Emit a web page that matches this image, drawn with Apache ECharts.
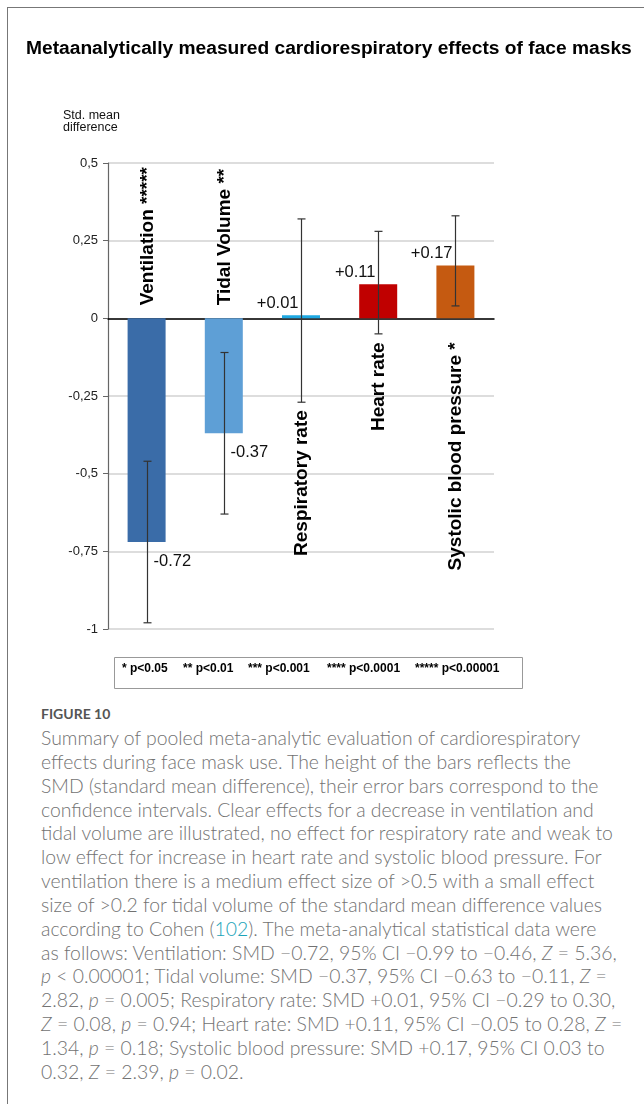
<!DOCTYPE html>
<html>
<head>
<meta charset="utf-8">
<script src="https://cdn.jsdelivr.net/npm/echarts@6/dist/echarts.min.js"></script>
<style>
  html, body { margin: 0; padding: 0; background: #fff; }
  #page { position: relative; width: 644px; height: 1104px; overflow: hidden; }
  #frame { position: absolute; left: 7px; top: 7px; width: 660px; height: 1120px;
           border-left: 1.5px solid #777; border-top: 1.5px solid #777; }
  #chart { position: absolute; left: 0; top: 0; width: 644px; height: 700px; }
  #figlabel { position: absolute; left: 41px; top: 705px; font-family: Lato, "Open Sans", sans-serif;
              font-weight: 700; font-size: 14px; color: #555; }
  #caption { position: absolute; left: 41px; top: 726px; font-family: Lato, "Open Sans", sans-serif;
             font-weight: 300; font-size: 19.4px; line-height: 23.85px; color: #727272; white-space: nowrap; }
  #caption i { font-style: italic; }
  #caption .ref { color: #1aa3b8; }
</style>
</head>
<body>
<div id="page">
  <div id="frame"></div>
  <div id="chart"></div>
  <div id="figlabel">FIGURE 10</div>
  <div id="caption">
    Summary of pooled meta-analytic evaluation of cardiorespiratory<br>
    effects during face mask use. The height of the bars reflects the<br>
    SMD (standard mean difference), their error bars correspond to the<br>
    confidence intervals. Clear effects for a decrease in ventilation and<br>
    tidal volume are illustrated, no effect for respiratory rate and weak to<br>
    low effect for increase in heart rate and systolic blood pressure. For<br>
    ventilation there is a medium effect size of &gt;0.5 with a small effect<br>
    size of &gt;0.2 for tidal volume of the standard mean difference values<br>
    according to Cohen (<span class="ref">102</span>). The meta-analytical statistical data were<br>
    as follows: Ventilation: SMD &minus;0.72, 95% CI &minus;0.99 to &minus;0.46, <i>Z</i> = 5.36,<br>
    <i>p</i> &lt; 0.00001; Tidal volume: SMD &minus;0.37, 95% CI &minus;0.63 to &minus;0.11, <i>Z</i> =<br>
    2.82, <i>p</i> = 0.005; Respiratory rate: SMD +0.01, 95% CI &minus;0.29 to 0.30,<br>
    <i>Z</i> = 0.08, <i>p</i> = 0.94; Heart rate: SMD +0.11, 95% CI &minus;0.05 to 0.28, <i>Z</i> =<br>
    1.34, <i>p</i> = 0.18; Systolic blood pressure: SMD +0.17, 95% CI 0.03 to<br>
    0.32, <i>Z</i> = 2.39, <i>p</i> = 0.02.
  </div>
</div>
<script>
// data
var categories = ['Ventilation', 'Tidal Volume', 'Respiratory rate', 'Heart rate', 'Systolic blood pressure'];
var stars = ['*****', '**', '', '', '*'];
var smd = [-0.72, -0.37, 0.01, 0.11, 0.17];
var ciLow = [-0.98, -0.63, -0.27, -0.05, 0.04];
var ciHigh = [-0.46, -0.11, 0.32, 0.28, 0.33];
var yTicks = [-1, -0.75, -0.5, -0.25, 0, 0.25, 0.5];
var pLevels = ['* p<0.05', '** p<0.01', '*** p<0.001', '**** p<0.0001', '***** p<0.00001'];

var barColors = ['#3a6ca8', '#5e9fd6', '#1ea8e2', '#c00000', '#c55a11'];
var FONT = '"Liberation Sans", Arial, sans-serif';

var chart = echarts.init(document.getElementById('chart'));

var barData = smd.map(function (v, i) {
  return { value: v, itemStyle: { color: barColors[i] } };
});
var errData = smd.map(function (v, i) {
  return [i, ciLow[i], ciHigh[i], v];
});

function renderErr(params, api) {
  var i = api.value(0);
  var v = api.value(3);
  var lo = api.coord([i, api.value(1)]);
  var hi = api.coord([i, api.value(2)]);
  var mid = api.coord([i, v]);
  var zero = api.coord([i, 0]);
  var x = Math.round(lo[0]) + 0.5;
  var st = { stroke: '#333', lineWidth: 1.2 };
  var cap = 4;
  var kids = [
    { type: 'line', shape: { x1: x, y1: lo[1], x2: x, y2: hi[1] }, style: st },
    { type: 'line', shape: { x1: x - cap, y1: lo[1], x2: x + cap, y2: lo[1] }, style: st },
    { type: 'line', shape: { x1: x - cap, y1: hi[1], x2: x + cap, y2: hi[1] }, style: st }
  ];
  var txt = (v > 0 ? '+' : '') + v.toFixed(2);
  var vfont = '16.5px ' + FONT;
  if (v < 0) {
    kids.push({ type: 'text', x: x + 6, y: mid[1] + 19,
      style: { text: txt, fill: '#111', font: vfont, align: 'left', verticalAlign: 'middle' } });
  } else {
    kids.push({ type: 'text', x: x - 3, y: mid[1] - 12,
      style: { text: txt, fill: '#111', font: vfont, align: 'right', verticalAlign: 'middle' } });
  }
  var name = categories[i] + (stars[i] ? ' ' + stars[i] : '');
  var ly, al;
  if (v < 0) {
    ly = zero[1] - 13; al = 'left';
  } else {
    ly = Math.max(Math.max(lo[1], zero[1]) + 8, zero[1] + 24); al = 'right';
  }
  kids.push({ type: 'text', x: x, y: ly, rotation: Math.PI / 2,
    style: { text: name, fill: '#000', font: 'bold 19px ' + FONT, align: al, verticalAlign: 'middle' } });
  return { type: 'group', children: kids };
}

var legendX = [122, 183, 248, 327, 415];
var graphics = [
  { type: 'text', left: 63, top: 109, style: { text: 'Std. mean\ndifference', font: '12.5px ' + FONT, fill: '#111', lineHeight: 12.5 } },
  { type: 'rect', left: 112, top: 655, shape: { width: 408, height: 31 }, style: { fill: 'none', stroke: '#999', lineWidth: 1 } }
];
pLevels.forEach(function (t, i) {
  graphics.push({ type: 'text', x: legendX[i], y: 669,
    style: { text: t, font: 'bold 12px ' + FONT, fill: '#000', verticalAlign: 'middle' } });
});

chart.setOption({
  animation: false,
  textStyle: { fontFamily: FONT },
  title: {
    text: 'Metaanalytically measured cardiorespiratory effects of face masks',
    left: 26, top: 38, padding: 0,
    textStyle: { fontSize: 19.2, fontWeight: 'bold', color: '#000', fontFamily: FONT, lineHeight: 22 }
  },
  grid: { left: 108, right: 150, top: 163, height: 466 },
  xAxis: {
    type: 'category',
    data: categories,
    axisLine: { onZero: true, lineStyle: { color: '#000', width: 1.5 } },
    axisTick: { show: false },
    axisLabel: { show: false },
    splitLine: { show: false }
  },
  yAxis: {
    type: 'value',
    min: -1, max: 0.5, interval: 0.25,
    axisLine: { show: true, lineStyle: { color: '#666', width: 1.2 } },
    axisTick: { show: true, length: 5, lineStyle: { color: '#666' } },
    axisLabel: {
      color: '#222', fontSize: 13, margin: 10,
      formatter: function (v) { return yTicks.indexOf(v) >= 0 ? String(v).replace('.', ',') : ''; }
    },
    splitLine: { lineStyle: { color: '#d2d2d2', width: 1.5 } }
  },
  graphic: graphics,
  series: [
    { type: 'bar', data: barData, barWidth: 38, silent: true },
    { type: 'custom', data: errData, renderItem: renderErr, encode: { x: 0, y: [1, 2] }, silent: true, z: 5 }
  ]
});
</script>
</body>
</html>
